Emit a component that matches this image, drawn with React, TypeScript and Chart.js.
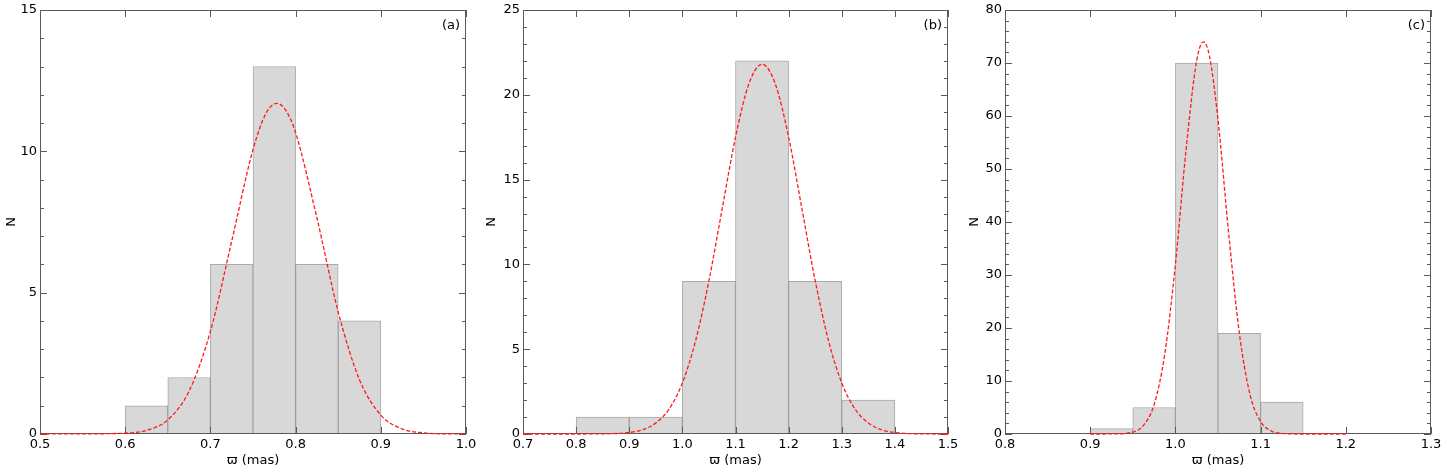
import React, { useEffect, useRef } from "react";
import { Chart, registerables } from "chart.js";

Chart.register(...registerables);

const FONT = "'DejaVu Sans', sans-serif";
const AXIS_COLOR = "#5a5a5a";

// ---------- Panel (a) ----------
const binCentersA = [0.625, 0.675, 0.725, 0.775, 0.825, 0.875];
const countsA = [1, 2, 6, 13, 6, 4];
const fitXA = [0.5, 0.55, 0.6, 0.625, 0.65, 0.675, 0.7, 0.725, 0.75, 0.765, 0.778, 0.79, 0.8, 0.825, 0.85, 0.875, 0.9, 0.925, 0.95, 0.975, 1.0];
const fitYA = [0, 0.005, 0.03, 0.13, 0.5, 1.52, 3.63, 6.82, 10.06, 11.33, 11.7, 11.38, 10.66, 7.65, 4.32, 1.92, 0.67, 0.18, 0.04, 0.006, 0];

// ---------- Panel (b) ----------
const binCentersB = [0.85, 0.95, 1.05, 1.15, 1.25, 1.35];
const countsB = [1, 1, 9, 22, 9, 2];
const fitXB = [0.7, 0.8, 0.85, 0.9, 0.925, 0.95, 0.975, 1.0, 1.025, 1.05, 1.075, 1.1, 1.125, 1.15, 1.175, 1.2, 1.225, 1.25, 1.275, 1.3, 1.325, 1.35, 1.375, 1.4, 1.45, 1.5];
const fitYB = [0, 0.001, 0.008, 0.09, 0.25, 0.65, 1.47, 3.01, 5.51, 9.04, 13.29, 17.5, 20.63, 21.8, 20.63, 17.5, 13.29, 9.04, 5.51, 3.01, 1.47, 0.65, 0.25, 0.09, 0.008, 0];

// ---------- Panel (c) ----------
const binCentersC = [0.925, 0.975, 1.025, 1.075, 1.125];
const countsC = [1, 5, 70, 19, 6];
const fitXC = [0.9, 0.925, 0.95, 0.9625, 0.975, 0.9875, 1.0, 1.0125, 1.025, 1.033, 1.04, 1.05, 1.0625, 1.075, 1.0875, 1.1, 1.1125, 1.125, 1.15, 1.2];
const fitYC = [0, 0.01, 0.37, 1.62, 5.55, 15.05, 32, 53.6, 70.5, 74, 71.3, 59.3, 37.9, 19.1, 7.5, 2.35, 0.57, 0.11, 0.002, 0];

const panelLabels = ["(a)", "(b)", "(c)"];
const xTitle = "ϖ (mas)";
const yTitle = "N";

type Panel = {
  label: string;
  centers: number[];
  counts: number[];
  fitX: number[];
  fitY: number[];
  xMin: number;
  xMax: number;
  yMax: number;
  yStep: number;
  yMinor: number;
  left: number;
  width: number;
  yWidth: number;
  padRight: number;
};

const panels: Panel[] = [
  { label: panelLabels[0], centers: binCentersA, counts: countsA, fitX: fitXA, fitY: fitYA, xMin: 0.5, xMax: 1.0, yMax: 15, yStep: 5, yMinor: 1, left: 0, width: 480, yWidth: 40, padRight: 14 },
  { label: panelLabels[1], centers: binCentersB, counts: countsB, fitX: fitXB, fitY: fitYB, xMin: 0.7, xMax: 1.5, yMax: 25, yStep: 5, yMinor: 1, left: 480, width: 483, yWidth: 43, padRight: 15 },
  { label: panelLabels[2], centers: binCentersC, counts: countsC, fitX: fitXC, fitY: fitYC, xMin: 0.8, xMax: 1.3, yMax: 80, yStep: 10, yMinor: 2, left: 963, width: 484, yWidth: 42, padRight: 16 },
];

function drawFrame(chart: any, opts: any) {
  const { ctx, chartArea, scales } = chart;
  const { left, right, top, bottom } = chartArea;
  const x = scales.x;
  const y = scales.y;
  ctx.save();
  ctx.strokeStyle = AXIS_COLOR;
  ctx.lineWidth = 1;
  ctx.beginPath();
  const major = 7;
  const minor = 4;
  x.ticks.forEach((t: any) => {
    const px = Math.round(x.getPixelForValue(t.value)) + 0.5;
    ctx.moveTo(px, bottom);
    ctx.lineTo(px, bottom - major);
    ctx.moveTo(px, top);
    ctx.lineTo(px, top + major);
  });
  const step = opts.yMinor;
  const majorStep = opts.yStep;
  for (let v = y.min; v <= y.max + 1e-9; v += step) {
    const py = Math.round(y.getPixelForValue(v)) + 0.5;
    const isMajor = Math.abs(v / majorStep - Math.round(v / majorStep)) < 1e-6;
    const len = isMajor ? major : minor;
    ctx.moveTo(left, py);
    ctx.lineTo(left + len, py);
    ctx.moveTo(right, py);
    ctx.lineTo(right - len, py);
  }
  ctx.stroke();
  ctx.strokeRect(Math.round(left) + 0.5, Math.round(top) + 0.5, Math.round(right - left) - 1, Math.round(bottom - top) - 1);
  ctx.fillStyle = "#000";
  ctx.font = `13px ${FONT}`;
  ctx.textAlign = "right";
  ctx.textBaseline = "middle";
  ctx.fillText(opts.label, right - 6, top + 16);
  ctx.restore();
}

const framePlugin = {
  id: "frame",
  afterDatasetDraw(chart: any, args: any, opts: any) {
    if (args.meta.type === "bar") drawFrame(chart, opts);
  },
};

function PanelChart({ p }: { p: Panel }) {
  const ref = useRef<HTMLCanvasElement | null>(null);
  useEffect(() => {
    if (!ref.current) return;
    const chart = new Chart(ref.current, {
      type: "bar",
      data: {
        datasets: [
          {
            type: "line",
            data: p.fitX.map((xv, i) => ({ x: xv, y: p.fitY[i] })),
            borderColor: "#ff1a1a",
            borderWidth: 1.3,
            borderDash: [4, 2],
            pointRadius: 0,
            cubicInterpolationMode: "monotone",
            fill: false,
            clip: 3,
            order: 0,
          } as any,
          {
            type: "bar",
            data: p.centers.map((xv, i) => ({ x: xv, y: p.counts[i] })),
            backgroundColor: "#d8d8d8",
            borderColor: "rgba(100,100,100,0.55)",
            borderWidth: 1,
            barPercentage: 1,
            categoryPercentage: 1,
            order: 1,
          } as any,
        ],
      },
      options: {
        animation: false,
        responsive: false,
        devicePixelRatio: 1,
        layout: { padding: { left: 0, top: 10, right: p.padRight, bottom: 0 } },
        plugins: {
          legend: { display: false },
          tooltip: { enabled: false },
          frame: { label: p.label, yStep: p.yStep, yMinor: p.yMinor },
        } as any,
        scales: {
          x: {
            type: "linear",
            min: p.xMin,
            max: p.xMax,
            offset: false,
            grid: { display: false, drawTicks: false },
            border: { display: false },
            ticks: {
              stepSize: 0.1,
              autoSkip: false,
              maxRotation: 0,
              padding: 3,
              color: "#000",
              font: { family: FONT, size: 13 },
              callback: (v: any) => Number(v).toFixed(1),
            },
            title: {
              display: true,
              text: xTitle,
              color: "#000",
              font: { family: FONT, size: 13 },
              padding: { top: 0, bottom: 5 },
            },
            afterFit: (s: any) => {
              s.height = 39;
              s.paddingLeft = 0;
              s.paddingRight = 0;
            },
          },
          y: {
            type: "linear",
            min: 0,
            max: p.yMax,
            grid: { display: false, drawTicks: false },
            border: { display: false },
            ticks: {
              stepSize: p.yStep,
              autoSkip: false,
              padding: 3,
              color: "#000",
              font: { family: FONT, size: 13 },
            },
            title: {
              display: true,
              text: yTitle,
              color: "#000",
              font: { family: FONT, size: 13 },
              padding: { top: 4, bottom: 0 },
            },
            afterFit: (s: any) => {
              s.width = p.yWidth;
              s.paddingTop = 0;
              s.paddingBottom = 0;
            },
          },
        },
      } as any,
      plugins: [framePlugin],
    });
    return () => chart.destroy();
  }, [p]);
  return (
    <canvas
      ref={ref}
      width={p.width}
      height={473}
      style={{ position: "absolute", left: p.left, top: 0, width: p.width, height: 473 }}
    />
  );
}

export default function App() {
  return (
    <div style={{ position: "fixed", left: 0, top: 0, width: 1447, height: 473, background: "#fff" }}>
      {panels.map((p) => (
        <PanelChart key={p.label} p={p} />
      ))}
    </div>
  );
}
